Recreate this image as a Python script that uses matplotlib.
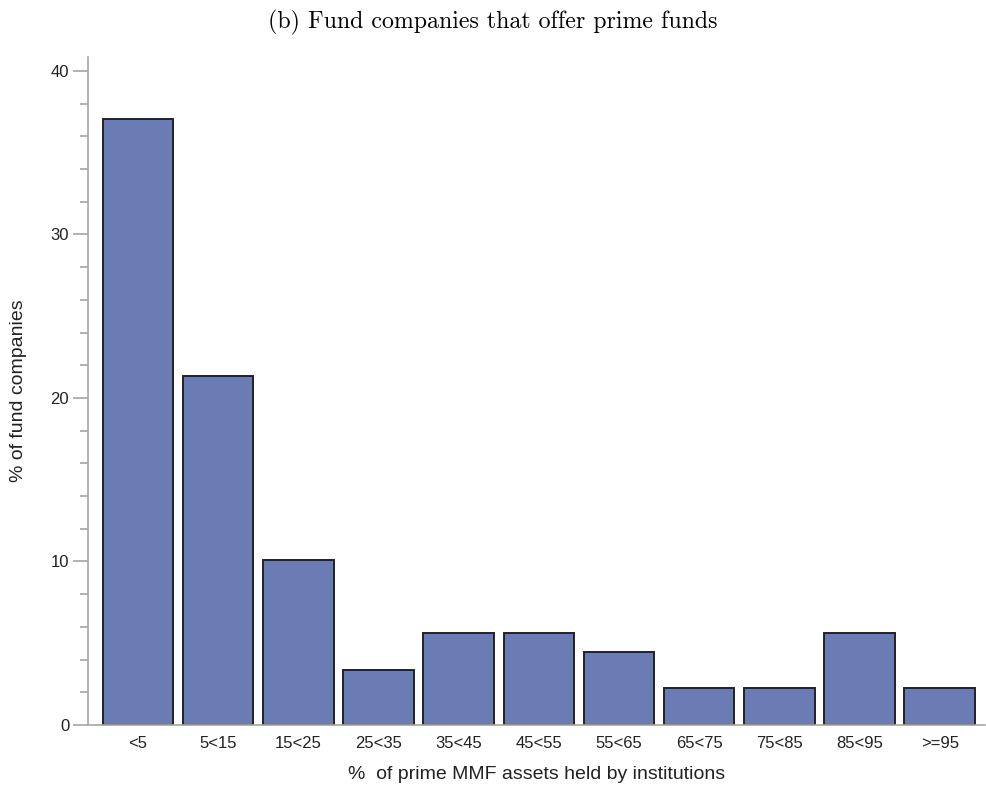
import matplotlib
matplotlib.use("Agg")
import matplotlib.pyplot as plt
import numpy as np
from matplotlib.ticker import MultipleLocator

# share of fund companies (%) per bin
categories = ['<5', '5<15', '15<25', '25<35', '35<45', '45<55',
              '55<65', '65<75', '75<85', '85<95', '>=95']
shares = [37.08, 21.35, 10.11, 3.37, 5.62, 5.62, 4.49, 2.25, 2.25, 5.62, 2.25]

plt.rcParams['font.family'] = ['Liberation Sans', 'DejaVu Sans']

fig = plt.figure(figsize=(9.86, 7.89), dpi=100)
ax = fig.add_axes([0.0892, 0.0811, 0.9098, 0.8467])

x = np.arange(len(categories))
ax.bar(x, shares, width=0.88, color='#6b7cb4', edgecolor='#222222', linewidth=1.4)

ax.set_xlim(-0.625, 10.565)
ax.set_ylim(0, 40.85)
ax.set_xticks(x)
ax.set_xticklabels(categories)
ax.yaxis.set_major_locator(MultipleLocator(10))
ax.yaxis.set_minor_locator(MultipleLocator(2))

for side in ['top', 'right']:
    ax.spines[side].set_visible(False)
for side in ['left', 'bottom']:
    ax.spines[side].set_color('#a6a6a6')
    ax.spines[side].set_linewidth(1.2)

ax.tick_params(axis='x', length=0, labelsize=12, pad=8, labelcolor='#222222')
ax.tick_params(axis='y', which='major', length=10.5, width=1.2, color='#a6a6a6',
               labelsize=12, pad=3, labelcolor='#222222')
ax.tick_params(axis='y', which='minor', length=5.8, width=1.2, color='#a6a6a6')

ax.set_xlabel('%  of prime MMF assets held by institutions', fontsize=14,
              color='#222222', labelpad=11)
ax.set_ylabel('% of fund companies', fontsize=14, color='#222222')
ax.yaxis.set_label_coords(-0.068, 0.5)

fig.text(0.5, 0.972, '(b) Fund companies that offer prime funds', ha='center',
         va='center', fontsize=17.2, family=['cmr10', 'DejaVu Serif'])

fig.savefig('out.png', dpi=100)
